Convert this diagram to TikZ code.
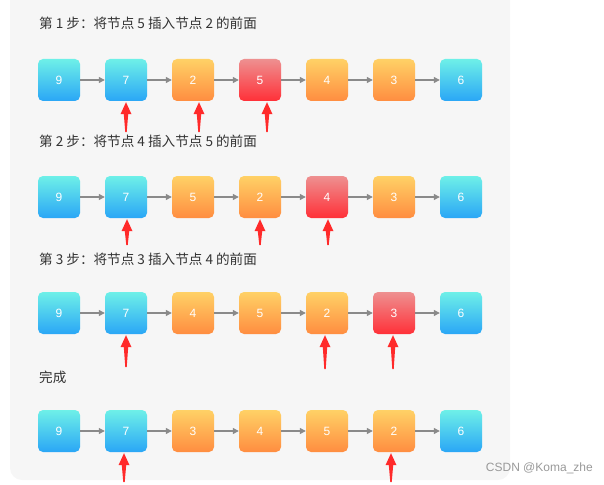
\documentclass[tikz,border=0pt]{standalone}
\usepackage{fontspec}
\setmainfont{Noto Sans CJK SC}
\newfontfamily\arialish{Liberation Sans}
\usetikzlibrary{arrows.meta,calc}
\definecolor{panelbg}{HTML}{F6F6F6}
\definecolor{cyanT}{HTML}{6EF0E8}
\definecolor{cyanB}{HTML}{2AA6F6}
\definecolor{orgT}{HTML}{FFD166}
\definecolor{orgB}{HTML}{FF8D40}
\definecolor{redT}{HTML}{EE9090}
\definecolor{redB}{HTML}{FF3038}
\definecolor{linkgray}{HTML}{8A8A8A}
\definecolor{ptr}{HTML}{FF2A2A}
\definecolor{titlec}{HTML}{333333}
\tikzset{
  box/.style={minimum width=42pt,minimum height=42pt,inner sep=0pt,rounded corners=5pt,
    text=white,font=\arialish\fontsize{12}{12}\selectfont},
  cbox/.style={box,top color=cyanT,bottom color=cyanB},
  obox/.style={box,top color=orgT,bottom color=orgB},
  rbox/.style={box,top color=redT,bottom color=redB},
  link/.style={draw=linkgray,line width=1.1pt,-{Triangle[length=6pt,width=6pt]}},
  title/.style={anchor=west,text=titlec,font=\fontsize{13.6}{14}\selectfont,inner sep=0pt},
}
% pointer: node name, x offset, length
\newcommand{\ptrarrow}[3]{%
  \fill[ptr] ($(#1.south)+(#2,1)$) -- ++(-5.5,12) -- ++(3.3,0) -- ++(1.5,#3-12) -- ++(1.4,0) -- ++(1.5,12-#3) -- ++(3.3,0) -- cycle;}
\begin{document}
\begin{tikzpicture}[x=1pt,y=-1pt]
\useasboundingbox (0,0) rectangle (604,484);
\fill[panelbg,rounded corners=12pt] (10,-20) rectangle (510,480);
% row 1
\node[title] (t1) at (39,23) {第 1 步：将节点 5 插入节点 2 的前面};
\node[cbox] (a1) at (59,80) {9};
\node[cbox] (a2) at (126,80) {7};
\node[obox] (a3) at (193,80) {2};
\node[rbox] (a4) at (260,80) {5};
\node[obox] (a5) at (327,80) {4};
\node[obox] (a6) at (394,80) {3};
\node[cbox] (a7) at (461,80) {6};
\foreach \i/\j in {1/2,2/3,3/4,4/5,5/6,6/7} \draw[link] (a\i) -- (a\j);
\ptrarrow{a2}{0}{30}
\ptrarrow{a3}{6}{30}
\ptrarrow{a4}{7}{30}
% row 2
\node[title] (t2) at (39,141) {第 2 步：将节点 4 插入节点 5 的前面};
\node[cbox] (b1) at (59,197) {9};
\node[cbox] (b2) at (126,197) {7};
\node[obox] (b3) at (193,197) {5};
\node[obox] (b4) at (260,197) {2};
\node[rbox] (b5) at (327,197) {4};
\node[obox] (b6) at (394,197) {3};
\node[cbox] (b7) at (461,197) {6};
\foreach \i/\j in {1/2,2/3,3/4,4/5,5/6,6/7} \draw[link] (b\i) -- (b\j);
\ptrarrow{b2}{1}{26}
\ptrarrow{b4}{0}{26}
\ptrarrow{b5}{1}{26}
% row 3
\node[title] (t3) at (39,259) {第 3 步：将节点 3 插入节点 4 的前面};
\node[cbox] (c1) at (59,313) {9};
\node[cbox] (c2) at (126,313) {7};
\node[obox] (c3) at (193,313) {4};
\node[obox] (c4) at (260,313) {5};
\node[obox] (c5) at (327,313) {2};
\node[rbox] (c6) at (394,313) {3};
\node[cbox] (c7) at (461,313) {6};
\foreach \i/\j in {1/2,2/3,3/4,4/5,5/6,6/7} \draw[link] (c\i) -- (c\j);
\ptrarrow{c2}{0}{32}
\ptrarrow{c5}{-2}{34}
\ptrarrow{c6}{-1}{34}
% row 4
\node[title] (t4) at (39,377) {完成};
\node[cbox] (d1) at (59,431) {9};
\node[cbox] (d2) at (126,431) {7};
\node[obox] (d3) at (193,431) {3};
\node[obox] (d4) at (260,431) {4};
\node[obox] (d5) at (327,431) {5};
\node[obox] (d6) at (394,431) {2};
\node[cbox] (d7) at (461,431) {6};
\foreach \i/\j in {1/2,2/3,3/4,4/5,5/6,6/7} \draw[link] (d\i) -- (d\j);
\ptrarrow{d2}{-2}{29}
\ptrarrow{d6}{-3}{29}
% watermark
\node[anchor=east,text=gray!80,font=\arialish\fontsize{12}{12}\selectfont,inner sep=0pt] (wm) at (593,468) {CSDN @Koma\_zhe};
\end{tikzpicture}
\end{document}
